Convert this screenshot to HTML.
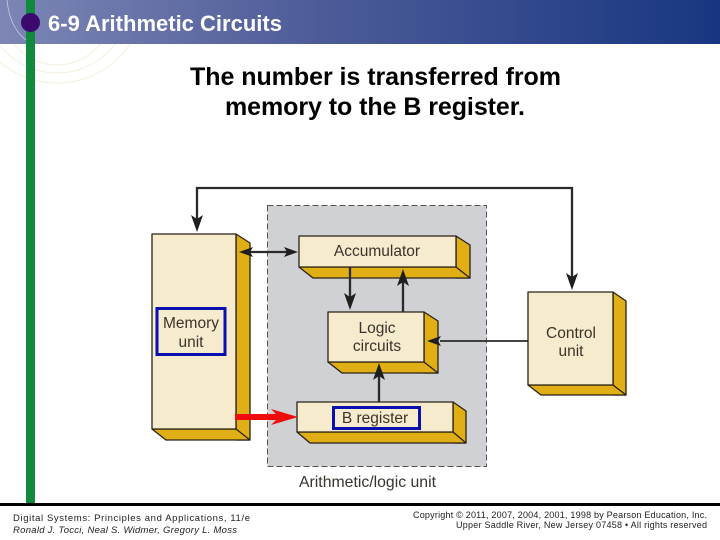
<!DOCTYPE html>
<html>
<head>
<meta charset="utf-8">
<style>
html,body{margin:0;padding:0;background:#fff}
#p{position:relative;width:720px;height:540px;overflow:hidden;background:#fff}
svg{position:absolute;left:0;top:0}
</style>
</head>
<body>
<div id="p">
<svg width="720" height="540" viewBox="0 0 720 540" xmlns="http://www.w3.org/2000/svg">
<defs>
<linearGradient id="hdr" x1="0" x2="1" y1="0" y2="0">
<stop offset="0" stop-color="#7d86b5"/>
<stop offset="0.4" stop-color="#515f9b"/>
<stop offset="1" stop-color="#183680"/>
</linearGradient>
<clipPath id="below"><rect x="0" y="44" width="720" height="100"/></clipPath>
</defs>
<rect x="0" y="0" width="720" height="44" fill="url(#hdr)"/>
<path d="M7 0Q10 32 32 44" fill="none" stroke="#c9cbdc" stroke-width="0.8"/>
<g fill="none" stroke="#f1ebd0" stroke-width="0.8" clip-path="url(#below)">
<circle cx="57" cy="10" r="55"/>
<circle cx="57" cy="0" r="73"/>
<circle cx="57" cy="-5" r="88"/>
</g>
<rect x="26" y="0" width="9" height="503" fill="#128a3e"/>
<circle cx="30.500" cy="22.500" r="9.500" fill="#3c0a6e"/>
<text x="48" y="31" font-family="Liberation Sans" font-weight="bold" font-size="22" fill="#fff" textLength="234" lengthAdjust="spacing">6-9 Arithmetic Circuits</text>
<g font-family="Liberation Sans" font-weight="bold" font-size="25" fill="#000">
<text x="190" y="85" textLength="371" lengthAdjust="spacing">The number is transferred from</text>
<text x="225" y="115" textLength="300" lengthAdjust="spacing">memory to the B register.</text>
</g>

<rect x="267.500" y="205.500" width="219" height="261" fill="#cfd1d4" stroke="#555" stroke-width="1" stroke-dasharray="6 3"/>

<g stroke="#2a2116" stroke-width="1.300" stroke-linejoin="round">
<path d="M236 234l14 9v197h-14z" fill="#e0ae15"/>
<path d="M152 429h84l14 11h-84z" fill="#e0ae15"/>
<rect x="152" y="234" width="84" height="195" fill="#f6ebcd"/>

<path d="M456 236l14 9v33h-14z" fill="#e0ae15"/>
<path d="M299 267h157l14 11h-157z" fill="#e0ae15"/>
<rect x="299" y="236" width="157" height="31" fill="#f6ebcd"/>

<path d="M424 312l14 9v52h-14z" fill="#e0ae15"/>
<path d="M328 362h96l14 11h-96z" fill="#e0ae15"/>
<rect x="328" y="312" width="96" height="50" fill="#f6ebcd"/>

<path d="M453 402l13 9v32h-13z" fill="#e0ae15"/>
<path d="M297 432h156l13 11h-156z" fill="#e0ae15"/>
<rect x="297" y="402" width="156" height="30" fill="#f6ebcd"/>

<path d="M613 292l13 9v94h-13z" fill="#e0ae15"/>
<path d="M528 385h85l13 10h-85z" fill="#e0ae15"/>
<rect x="528" y="292" width="85" height="93" fill="#f6ebcd"/>
</g>

<g fill="none" stroke="#2a2a2a" stroke-width="2.300">
<path d="M197 222V188H572V280"/>
<path d="M245 252H292"/>
<path d="M350 267V300"/>
<path d="M403 282V312"/>
<path d="M379 375V402"/>
<path d="M528 341H440" stroke-width="1.800"/>
</g>
<g fill="#1f1f1f">
<path d="M197 232l-6-17 6 4 6-4z"/>
<path d="M572 290l-6-17 6 4 6-4z"/>
<path d="M350 310l-6-17 6 4 6-4z"/>
<path d="M403 269l-6 17 6-4 6 4z"/>
<path d="M379 363l-6 17 6-4 6 4z"/>
<path d="M427 341l14-5-3 5 3 5z"/>
<path d="M239 252l14-5-3 5 3 5z"/>
<path d="M298 252l-14-5 3 5-3 5z"/>
</g>
<path d="M235 414H276L271 409L298 417L271 425L276 420H235Z" fill="#f00c0c"/>

<rect x="157" y="308.500" width="68" height="46" fill="none" stroke="#0a0fb0" stroke-width="3"/>
<rect x="333.500" y="407.500" width="86" height="21" fill="none" stroke="#0a0fb0" stroke-width="3"/>

<g font-family="Liberation Sans" font-size="15.500" fill="#3a342c" text-anchor="middle">
<text x="191" y="328">Memory</text>
<text x="191" y="347">unit</text>
<text x="377" y="256">Accumulator</text>
<text x="377" y="333">Logic</text>
<text x="377" y="351">circuits</text>
<text x="375" y="423">B register</text>
<text x="571" y="338">Control</text>
<text x="571" y="356">unit</text>
</g>
<text x="299" y="487" font-family="Liberation Sans" font-size="15.800" fill="#3a342c" textLength="137" lengthAdjust="spacing">Arithmetic/logic unit</text>

<rect x="0" y="503" width="720" height="3" fill="#000"/>
<g font-family="Liberation Sans" font-size="9.500" fill="#222">
<text x="13" y="521" textLength="237" lengthAdjust="spacing">Digital Systems: Principles and Applications, 11/e</text>
<text x="13" y="533" font-style="italic" textLength="224" lengthAdjust="spacing">Ronald J. Tocci, Neal S. Widmer, Gregory L. Moss</text>
<text x="413" y="518" font-size="9" textLength="294" lengthAdjust="spacing">Copyright © 2011, 2007, 2004, 2001, 1998 by Pearson Education, Inc.</text>
<text x="456" y="528" font-size="9" textLength="251" lengthAdjust="spacing">Upper Saddle River, New Jersey 07458 • All rights reserved</text>
</g>
</svg>
</div>
</body>
</html>
